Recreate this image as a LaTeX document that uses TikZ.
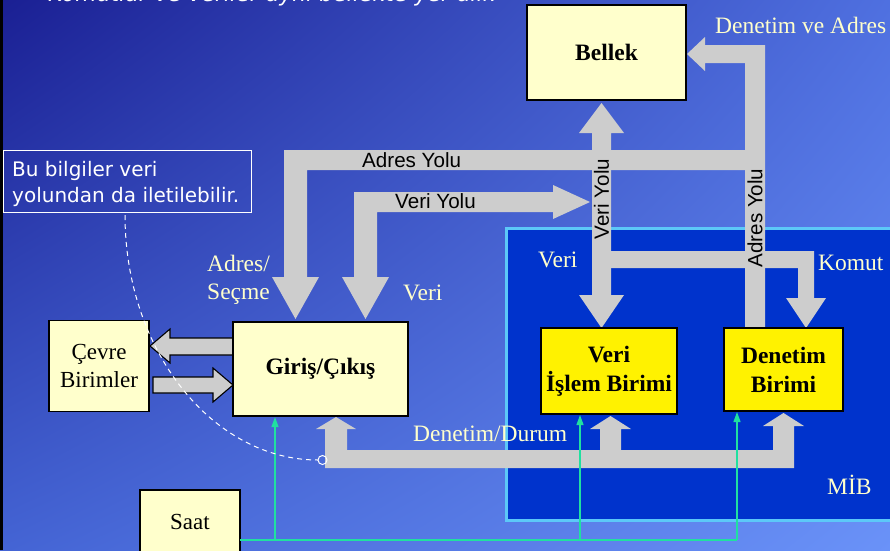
\documentclass[tikz,border=0pt]{standalone}
\usepackage{fontspec}
\setmainfont{Liberation Serif}
\newfontfamily\arialf{Liberation Sans}
\newfontfamily\comicf{DejaVu Sans}
\usetikzlibrary{arrows.meta,shadings}
\definecolor{bgUL}{HTML}{1A1F93}
\definecolor{bgUR}{HTML}{4F70E0}
\definecolor{bgLL}{HTML}{4464D4}
\definecolor{bgLR}{HTML}{6A92F8}
\definecolor{busgray}{HTML}{CDCDCD}
\definecolor{cream}{HTML}{FFFFCC}
\definecolor{paleyel}{HTML}{FFFFCC}
\definecolor{mibblue}{HTML}{0033CC}
\definecolor{mibedge}{HTML}{5CC8F8}
\definecolor{clockgreen}{HTML}{20E0A0}
\tikzset{
  box/.style={draw=black, line width=1.3pt, inner sep=0pt, outer sep=0pt, align=center,
    font=\fontsize{23}{28}\selectfont},
  ybox/.style={box, fill=paleyel},
  cpubox/.style={box, fill=yellow},
  bus/.style={fill=busgray, draw=none},
  sidebus/.style={fill=busgray, draw=black, line width=1.1pt, line join=miter},
  tlabel/.style={text=cream, inner sep=0pt, anchor=base west, font=\fontsize{23.5}{28}\selectfont},
  slabel/.style={text=black, inner sep=0pt, font=\arialf\fontsize{20.6}{24}\selectfont},
  clock/.style={draw=clockgreen, line width=1.2pt},
  clockarrow/.style={clock, -{Triangle[width=7pt,length=10pt]}}
}
\begin{document}
\begin{tikzpicture}[x=1pt,y=-1pt]
\useasboundingbox (0,0) rectangle (890,550);
\clip (0,0) rectangle (890,550);
\shade[upper left=bgUL, upper right=bgUR, lower left=bgLL, lower right=bgLR] (0,0) rectangle (890,550);
\fill[black] (0,0) rectangle (3,550);

% clipped title line
\node[text=white, inner sep=0pt, anchor=base west, font=\comicf\itshape\fontsize{22}{24}\selectfont]
  (title) at (48,1.5) {Komutlar ve veriler aynı bellekte yer alır.};

% MIB region
\draw[fill=mibblue, draw=mibedge, line width=3pt] (506,228) rectangle (900,520);

% buses
\fill[bus] (745,328) -- (745,63) -- (705,63) -- (705,71) -- (687,54) -- (705,37) -- (705,45) -- (765,45) -- (765,328) -- cycle;
\fill[bus] (750,150) -- (284,150) -- (284,277) -- (272,277) -- (295.5,319) -- (319,277) -- (307,277) -- (307,170) -- (750,170) -- cycle;
\fill[bus] (354,192) -- (553,192) -- (553,185) -- (590,202) -- (553,219) -- (553,212) -- (377,212) -- (377,277) -- (389,277) -- (365.5,319) -- (342,277) -- (354,277) -- cycle;
\fill[bus] (592,133) -- (579,133) -- (601.5,103) -- (624,133) -- (611,133) -- (611,295) -- (624,295) -- (601.5,328) -- (579,295) -- (592,295) -- cycle;
\fill[bus] (605,251) -- (814,251) -- (814,298) -- (826,298) -- (806,328) -- (786,298) -- (798,298) -- (798,268) -- (605,268) -- cycle;
\fill[bus] (325,468) -- (325,429) -- (316,429) -- (336,417) -- (356,429) -- (347,429) -- (347,450) -- (600,450) -- (600,429) -- (590,429) -- (610.5,416) -- (631,429) -- (621,429) -- (621,450) -- (773,450) -- (773,426) -- (763,426) -- (783.5,413) -- (804,426) -- (794,426) -- (794,468) -- cycle;

% side arrows between Cevre and Giris
\draw[sidebus] (236,338) -- (170,338) -- (170,329) -- (150,346) -- (170,363) -- (170,355) -- (236,355);
\draw[sidebus] (153,377) -- (213,377) -- (213,368) -- (233,385) -- (213,402) -- (213,393) -- (153,393) -- cycle;

% boxes
\node[ybox, minimum width=159pt, minimum height=95pt, font=\bfseries\fontsize{23.5}{28}\selectfont] (bellek) at (606.5,52.5) {Bellek};
\node[ybox, minimum width=175pt, minimum height=94pt, font=\bfseries\fontsize{23.5}{28}\selectfont] (giris) at (320.5,369) {Giriş/Çıkış};
\node[ybox, minimum width=100pt, minimum height=91pt] (cevre) at (99,366) {Çevre\\Birimler};
\node[cpubox, minimum width=136pt, minimum height=86pt, font=\bfseries\fontsize{23.5}{29}\selectfont] (vib) at (609,371) {Veri\\İşlem Birimi};
\node[cpubox, minimum width=119pt, minimum height=83pt, font=\bfseries\fontsize{23.5}{29}\selectfont] (denetim) at (783.5,369.5) {Denetim\\Birimi};
\node[ybox, minimum width=100pt, minimum height=64pt] (saat) at (190,522) {Saat};

% clock lines
\coordinate (clk) at (737,540);
\draw[clock] (saat.east |- clk) -- (clk);
\draw[clockarrow] (275,540) -- (275,417);
\draw[clockarrow] (580,540) -- (580,415);
\draw[clockarrow] (clk) -- (737,412);

% cream labels
\node[tlabel] (lbDA) at (715,33) {Denetim ve Adres};
\node[tlabel] (lbAS1) at (207,271) {Adres/};
\node[tlabel] (lbAS2) at (207,299) {Seçme};
\node[tlabel] (lbV1) at (403,300) {Veri};
\node[tlabel] (lbV2) at (538,267) {Veri};
\node[tlabel] (lbK) at (818,270) {Komut};
\node[tlabel] (lbDD) at (413,441) {Denetim/Durum};
\node[tlabel] (lbMIB) at (827,494) {MİB};

% bus labels
\node[slabel, anchor=base west] (lbAY) at (362,167) {Adres Yolu};
\node[slabel, anchor=base west] (lbVY) at (395,208) {Veri Yolu};
\node[slabel, rotate=90] (lbVYv) at (601.5,199) {Veri Yolu};
\node[slabel, rotate=90] (lbAYv) at (755,218) {Adres Yolu};

% callout
\draw[white, line width=1pt] (3,150) rectangle (251,212);
\node[text=white, inner sep=0pt, anchor=base west, font=\comicf\fontsize{20}{26}\selectfont] (call1) at (12,176) {Bu bilgiler veri};
\node[text=white, inner sep=0pt, anchor=base west, font=\comicf\fontsize{20}{26}\selectfont] (call2) at (12,202) {yolundan da iletilebilir.};
\draw[white, line width=1pt, dash pattern=on 5pt off 4pt] (125,215) .. controls (125,351) and (213,460) .. (318,460);
\draw[white, line width=1pt] (322.5,460) circle (4.5pt);
\end{tikzpicture}
\end{document}
